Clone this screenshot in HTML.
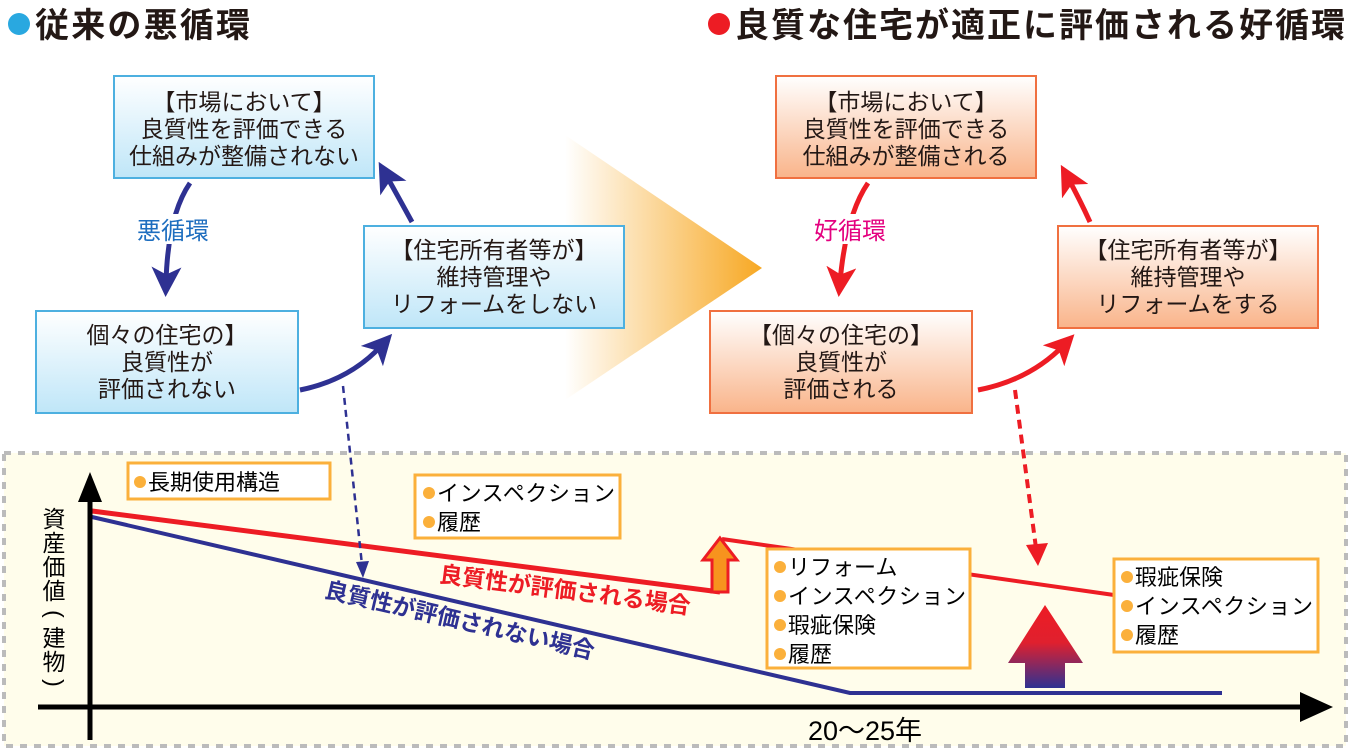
<!DOCTYPE html>
<html><head><meta charset="utf-8"><style>
body{margin:0;width:1350px;height:750px;overflow:hidden;background:#fff;font-family:"Liberation Sans","Noto Sans CJK JP",sans-serif}
svg text{font-family:"Liberation Sans","Noto Sans CJK JP",sans-serif}
</style></head><body>
<svg width="1350" height="750" viewBox="0 0 1350 750">
<defs>
<linearGradient id="gb" x1="0" y1="0" x2="0" y2="1"><stop offset="0" stop-color="#fff"/><stop offset="1" stop-color="#bfe6f8"/></linearGradient>
<linearGradient id="go" x1="0" y1="0" x2="0" y2="1"><stop offset="0" stop-color="#fff"/><stop offset="1" stop-color="#f9b48a"/></linearGradient>
<linearGradient id="gt" x1="0" y1="0" x2="1" y2="0"><stop offset="0" stop-color="#f7a823" stop-opacity="0"/><stop offset="1" stop-color="#f7a823"/></linearGradient>
<linearGradient id="gu" x1="0" y1="0" x2="0" y2="1"><stop offset="0" stop-color="#ed1c24"/><stop offset="0.45" stop-color="#e0202e"/><stop offset="1" stop-color="#2e3192"/></linearGradient>
<marker id="mn" markerWidth="6" markerHeight="6" refX="3" refY="3" orient="auto" markerUnits="strokeWidth"><path d="M0,0 L6,3 L0,6 L1.5,3z" fill="#2e3192"/></marker>
<marker id="mr" markerWidth="6" markerHeight="6" refX="3" refY="3" orient="auto" markerUnits="strokeWidth"><path d="M0,0 L6,3 L0,6 L1.5,3z" fill="#ed1c24"/></marker>
</defs>
<circle cx="19" cy="24" r="11" fill="#29a8e0"/>
<text x="35" y="37" font-size="34" font-weight="bold" fill="#231815" textLength="215">従来の悪循環</text>
<circle cx="719" cy="24" r="11" fill="#ed1c24"/>
<text x="735" y="37" font-size="34" font-weight="bold" fill="#231815" textLength="610">良質な住宅が適正に評価される好循環</text>
<polygon points="565,135 762,268 565,400" fill="url(#gt)"/>
<g font-size="23" text-anchor="middle" fill="#231815">
<rect x="114" y="76" width="260" height="102" fill="url(#gb)" stroke="#4db0e0" stroke-width="2"/>
<text x="244" y="110">【市場において】</text><text x="244" y="137">良質性を評価できる</text><text x="244" y="164">仕組みが整備されない</text>
<rect x="364" y="226" width="260" height="102" fill="url(#gb)" stroke="#4db0e0" stroke-width="2"/>
<text x="494" y="258">【住宅所有者等が】</text><text x="494" y="285">維持管理や</text><text x="494" y="312">リフォームをしない</text>
<rect x="36" y="311" width="262" height="102" fill="url(#gb)" stroke="#4db0e0" stroke-width="2"/>
<text x="167" y="343">個々の住宅の】</text><text x="167" y="370">良質性が</text><text x="167" y="397">評価されない</text>
<rect x="776" y="76" width="260" height="102" fill="url(#go)" stroke="#f07040" stroke-width="2"/>
<text x="906" y="110">【市場において】</text><text x="906" y="137">良質性を評価できる</text><text x="906" y="164">仕組みが整備される</text>
<rect x="1058" y="226" width="260" height="102" fill="url(#go)" stroke="#f07040" stroke-width="2"/>
<text x="1188" y="258">【住宅所有者等が】</text><text x="1188" y="285">維持管理や</text><text x="1188" y="312">リフォームをする</text>
<rect x="710" y="311" width="262" height="102" fill="url(#go)" stroke="#f07040" stroke-width="2"/>
<text x="841" y="343">【個々の住宅の】</text><text x="841" y="370">良質性が</text><text x="841" y="397">評価される</text>
</g>
<g fill="none" stroke="#2e3192" stroke-width="5">
<path d="M190,183 Q168,215 166,282" marker-end="url(#mn)"/>
<path d="M300,390 Q350,380 382,345" marker-end="url(#mn)"/>
<path d="M412,222 Q400,200 386,175" marker-end="url(#mn)"/>
</g>
<g fill="none" stroke="#ed1c24" stroke-width="5">
<path d="M868,183 Q846,215 840,282" marker-end="url(#mr)"/>
<path d="M978,390 Q1030,380 1064,345" marker-end="url(#mr)"/>
<path d="M1090,222 Q1080,200 1068,178" marker-end="url(#mr)"/>
</g>
<rect x="128" y="214" width="90" height="30" fill="#fff"/>
<text x="173" y="239" font-size="24" text-anchor="middle" fill="#1e6ebf">悪循環</text>
<rect x="805" y="214" width="90" height="30" fill="#fff"/>
<text x="850" y="239" font-size="24" text-anchor="middle" fill="#e4007f">好循環</text>
<rect x="4" y="453" width="1342" height="293" fill="#fffdeb" stroke="#bbb" stroke-width="4" stroke-dasharray="7,7"/>
<line x1="92" y1="511" x2="720" y2="592" stroke="#ed1c24" stroke-width="5"/>
<line x1="722" y1="539" x2="1114" y2="595" stroke="#ed1c24" stroke-width="4"/>
<polyline points="92,517 850,693 1222,693" fill="none" stroke="#2e3192" stroke-width="4"/>
<polygon points="720,538 737,560 728,560 728,592 712,592 712,560 703,560" fill="#f7931e" stroke="#ed1c24" stroke-width="3"/>
<line x1="343" y1="386" x2="362" y2="565" stroke="#2e3192" stroke-width="2.5" stroke-dasharray="7,5"/>
<path d="M356,562 L363,578 L369,561z" fill="#2e3192"/>
<line x1="1015" y1="390" x2="1036" y2="548" stroke="#ed1c24" stroke-width="4" stroke-dasharray="9,6"/>
<path d="M1026,545 L1038,566 L1048,543z" fill="#ed1c24"/>
<polygon points="1045,605 1083,663 1065,663 1065,688 1025,688 1025,663 1008,663" fill="url(#gu)"/>
<line x1="90" y1="740" x2="90" y2="495" stroke="#000" stroke-width="5"/>
<polygon points="90,472 102,502 78,502" fill="#000"/>
<line x1="38" y1="707" x2="1310" y2="707" stroke="#000" stroke-width="5"/>
<polygon points="1333,707 1300,692 1300,722" fill="#000"/>
<text x="865" y="740" font-size="27" text-anchor="middle" fill="#000">20〜25年</text>
<g font-size="23" fill="#000" text-anchor="middle">
<text x="54" y="527">資</text><text x="54" y="551">産</text><text x="54" y="575">価</text><text x="54" y="599">値</text>
<text x="54" y="621" transform="rotate(90 54 614)">(</text>
<text x="54" y="646">建</text><text x="54" y="670">物</text>
<text x="54" y="690" transform="rotate(90 54 683)">)</text>
</g>
<text transform="translate(564,598) rotate(7.3)" font-size="23" font-weight="bold" fill="#ed1c24" text-anchor="middle">良質性が評価される場合</text>
<text transform="translate(458,628) rotate(13)" font-size="23" font-weight="bold" fill="#2e3192" text-anchor="middle">良質性が評価されない場合</text>
<g font-size="22" fill="#000">
<rect x="128" y="463" width="202" height="36" fill="#fff" stroke="#fbb03b" stroke-width="3"/>
<circle cx="140" cy="482" r="6" fill="#fbb03b"/><text x="148" y="490">長期使用構造</text>
<rect x="415" y="475" width="205" height="63" fill="#fff" stroke="#fbb03b" stroke-width="3"/>
<circle cx="429" cy="493" r="6" fill="#fbb03b"/><text x="437" y="501" textLength="178">インスペクション</text>
<circle cx="429" cy="522" r="6" fill="#fbb03b"/><text x="437" y="530">履歴</text>
<rect x="767" y="549" width="203" height="119" fill="#fff" stroke="#fbb03b" stroke-width="3"/>
<circle cx="780" cy="567" r="6" fill="#fbb03b"/><text x="788" y="575">リフォーム</text>
<circle cx="780" cy="596" r="6" fill="#fbb03b"/><text x="788" y="604" textLength="178">インスペクション</text>
<circle cx="780" cy="625" r="6" fill="#fbb03b"/><text x="788" y="633">瑕疵保険</text>
<circle cx="780" cy="654" r="6" fill="#fbb03b"/><text x="788" y="662">履歴</text>
<rect x="1114" y="559" width="204" height="93" fill="#fff" stroke="#fbb03b" stroke-width="3"/>
<circle cx="1127" cy="577" r="6" fill="#fbb03b"/><text x="1135" y="585">瑕疵保険</text>
<circle cx="1127" cy="606" r="6" fill="#fbb03b"/><text x="1135" y="614" textLength="178">インスペクション</text>
<circle cx="1127" cy="635" r="6" fill="#fbb03b"/><text x="1135" y="643">履歴</text>
</g>
</svg>
</body></html>
